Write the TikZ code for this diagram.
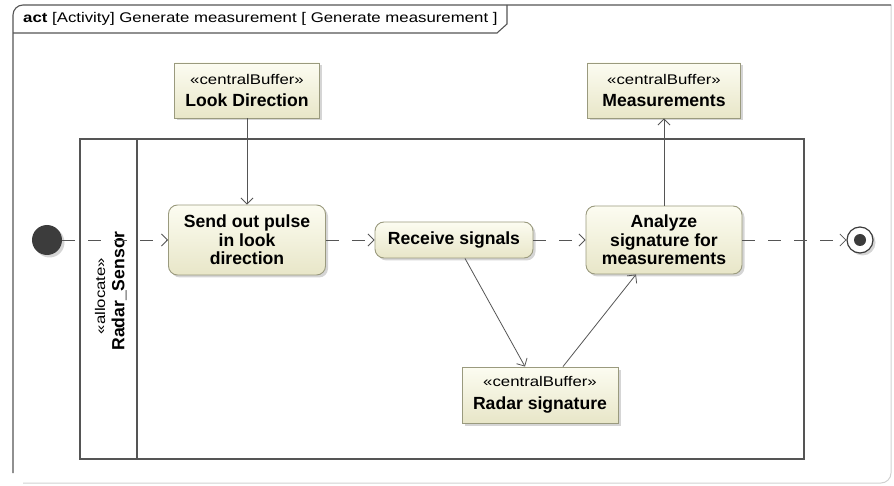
\documentclass[tikz,border=0pt]{standalone}
\usepackage{fontspec}
\setmainfont{Liberation Sans}
\newfontfamily\stereofont[FakeStretch=1.2]{Liberation Sans}
\usetikzlibrary{arrows.meta,shadows}

\definecolor{lineclr}{HTML}{555555}
\definecolor{boxline}{HTML}{9A9A7E}
\definecolor{boxtop}{HTML}{FCFCF1}
\definecolor{boxbot}{HTML}{E8E6C8}
\definecolor{dotclr}{HTML}{3C3C3C}

\newcommand\stereotxt{\stereofont\mdseries\fontsize{14}{16}\selectfont}
\newcommand\boldtxt{\bfseries\fontsize{17.6}{18.5}\selectfont}

\tikzset{
  boxshadow/.style={drop shadow={shadow xshift=2.5pt, shadow yshift=-2.5pt, fill=black!30, opacity=0.55}},
  boldtext/.style={font=\boldtxt},
  stereo/.style={font=\stereotxt},
  actionbox/.style={draw=boxline, line width=0.9pt, rounded corners=9pt,
    top color=boxtop, bottom color=boxbot, boxshadow, align=center,
    boldtext, inner sep=0pt},
  bufferbox/.style={draw=boxline, line width=0.9pt,
    top color=boxtop, bottom color=boxbot, boxshadow, align=center,
    inner sep=0pt, font=\boldtxt},
  flowtip/.style={-{Straight Barb[length=6pt,width=12pt,line width=0.8pt]}},
  ctrlflow/.style={draw=lineclr, line width=0.8pt, dash pattern=on 13pt off 13pt, flowtip},
  objflow/.style={draw=lineclr, line width=0.8pt, flowtip},
}

\begin{document}
\begin{tikzpicture}[x=1pt,y=-1pt]
\useasboundingbox (0,0) rectangle (894,486);

% diagram frame with its name tab
\draw[black!18, line width=1pt] (891,5) -- (891,473) arc[start angle=0,end angle=90,radius=10] -- (23,483);
\draw[lineclr, line width=1.1pt] (13,473) -- (13,15) arc[start angle=180,end angle=270,radius=10] -- (891,5);
\draw[lineclr, line width=1.1pt] (13,33) -- (497,33) -- (507,24) -- (507,5);
\node[anchor=west, stereo, inner sep=0pt] (title) at (23,19)
  {{\bfseries act} [Activity] Generate measurement [ Generate measurement ]};

% swimlane
\draw[lineclr, line width=2.5pt] (80,139) rectangle (804,459);
\draw[lineclr, line width=2.5pt] (137,139) -- (137,459);
\node[rotate=90, stereo, inner sep=0pt] (alloc) at (100,296) {«allocate»};
\node[rotate=90, boldtext, inner sep=0pt] (lane) at (119,291) {Radar\_Sensor};

% central buffers
\node[bufferbox, minimum width=145pt, minimum height=55pt] (look) at (247,90.5)
  {{\stereotxt «centralBuffer»}\\[4pt]Look Direction};
\node[bufferbox, minimum width=153pt, minimum height=55pt] (meas) at (664,90.5)
  {{\stereotxt «centralBuffer»}\\[4pt]Measurements};
\node[bufferbox, minimum width=156pt, minimum height=56pt] (radar) at (540,395)
  {{\stereotxt «centralBuffer»}\\[4pt]Radar signature};

% actions
\node[actionbox, minimum width=157pt, minimum height=70pt] (send) at (247,240)
  {Send out pulse\\in look\\direction};
\node[actionbox, minimum width=158pt, minimum height=36pt] (recv) at (454,240)
  {Receive signals};
\node[actionbox, minimum width=156pt, minimum height=68pt] (anal) at (664,240)
  {Analyze\\signature for\\measurements};

% initial and final nodes
\node[circle, fill=dotclr, minimum size=30pt, inner sep=0pt, boxshadow] (init) at (47,240) {};
\node[circle, draw=dotclr, line width=1.2pt, fill=white, minimum size=26pt, inner sep=0pt, boxshadow] (final) at (860,240) {};
\node[circle, fill=dotclr, minimum size=12pt, inner sep=0pt] (finaldot) at (final) {};

% control flows
\draw[ctrlflow] (init) -- (send);
\draw[ctrlflow] (send) -- (recv);
\draw[ctrlflow] (recv) -- (anal);
\draw[ctrlflow] (anal) -- (final);

% object flows
\draw[objflow] (look) -- (send);
\draw[objflow] (anal) -- (meas);
\draw[objflow] ([xshift=11pt]recv.south) -- ([xshift=-15pt]radar.north);
\draw[objflow] ([xshift=23pt]radar.north) -- ([xshift=-28pt]anal.south);
\end{tikzpicture}
\end{document}
